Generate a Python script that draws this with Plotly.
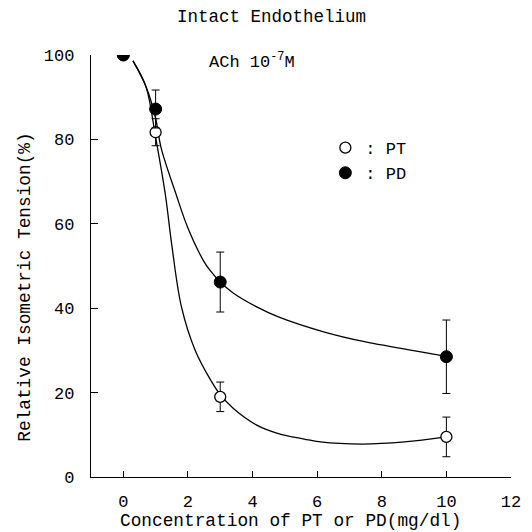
import plotly.graph_objects as go

# Measured data points
conc = [0, 1, 3, 10]
pt_mean = [100, 81.7, 19.0, 9.5]
pt_err = [0, 3.2, 3.5, 4.7]
pd_mean = [100, 87.2, 46.2, 28.5]
pd_err = [0, 4.5, 7.1, 8.7]

# Fitted curves
pt_fit_x = [0.3, 0.7, 1.0, 1.3, 1.5, 1.8, 2.22, 2.7, 3.0, 3.4, 4.13, 4.8, 5.6, 6.1, 7.4, 8.7, 10]
pt_fit_y = [98.6, 92.5, 80.5, 67, 55, 40.3, 30.1, 23, 19.5, 16.3, 12.3, 10.3, 9.0, 8.3, 7.8, 8.3, 9.5]
pd_fit_x = [0.3, 0.72, 1.0, 1.17, 1.62, 2.0, 2.47, 2.68, 3.0, 3.4, 4.13, 4.78, 6.2, 7.5, 9.7, 10]
pd_fit_y = [98.6, 92.2, 85, 78, 67.3, 59, 51.4, 49, 46.2, 43.6, 40.3, 38, 34.4, 32, 29, 28.5]

x_ticks = [0, 2, 4, 6, 8, 10, 12]
y_ticks = [0, 20, 40, 60, 80, 100]

FONT = "Liberation Mono, Courier New, monospace"

fig = go.Figure()

fig.add_trace(go.Scatter(x=pt_fit_x, y=pt_fit_y, mode="lines", line=dict(color="black", width=1.3, shape="spline"),
                         showlegend=False, hoverinfo="skip"))
fig.add_trace(go.Scatter(x=pd_fit_x, y=pd_fit_y, mode="lines", line=dict(color="black", width=1.3, shape="spline"),
                         showlegend=False, hoverinfo="skip"))

fig.add_trace(go.Scatter(x=conc, y=pt_mean, mode="markers", name=": PT",
                         error_y=dict(type="data", array=pt_err, color="black", thickness=1, width=4),
                         marker=dict(symbol="circle", size=11, color="white", line=dict(color="black", width=1.3))))
fig.add_trace(go.Scatter(x=conc, y=pd_mean, mode="markers", name=": PD",
                         error_y=dict(type="data", array=pd_err, color="black", thickness=1, width=4),
                         marker=dict(symbol="circle", size=12, color="black", line=dict(color="black", width=1))))

fig.update_layout(
    width=532, height=532,
    margin=dict(l=91, r=11, t=55, b=55),
    paper_bgcolor="white", plot_bgcolor="white",
    font=dict(family=FONT, size=16, color="black"),
    legend=dict(x=0.558, y=0.822, xanchor="left", yanchor="top", bgcolor="rgba(0,0,0,0)",
                font=dict(family=FONT, size=17), itemwidth=30, tracegroupgap=0),
    xaxis=dict(range=[-1, 12], tickvals=x_ticks, ticks="inside", ticklen=6, tickcolor="black",
               showline=True, linecolor="black", linewidth=1.3, showgrid=False, zeroline=False,
               tickfont=dict(family=FONT, size=17), ticklabelstandoff=8),
    yaxis=dict(range=[0, 100], tickvals=y_ticks, ticks="inside", ticklen=7, tickcolor="black",
               showline=True, linecolor="black", linewidth=1.3, showgrid=False, zeroline=False,
               tickfont=dict(family=FONT, size=17), ticklabelstandoff=12),
    annotations=[
        dict(text="Intact Endothelium", xref="paper", yref="paper", x=0.43, y=1.09,
             xanchor="center", yanchor="middle", showarrow=False, font=dict(family=FONT, size=17.5)),
        dict(text="ACh 10<sup>-7</sup>M", xref="paper", yref="paper", x=0.277, y=0.985,
             xanchor="left", yanchor="middle", showarrow=False, font=dict(family=FONT, size=17)),
        dict(text="Concentration of PT or PD(mg/dl)", xref="paper", yref="paper", x=0.474, y=-0.105,
             xanchor="center", yanchor="middle", showarrow=False, font=dict(family=FONT, size=17.8)),
        dict(text="Relative Isometric Tension(%)", xref="paper", yref="paper", x=-0.158, y=0.45,
             xanchor="center", yanchor="middle", showarrow=False, textangle=-90,
             font=dict(family=FONT, size=17.8)),
    ],
)

fig.write_html("out.html")
